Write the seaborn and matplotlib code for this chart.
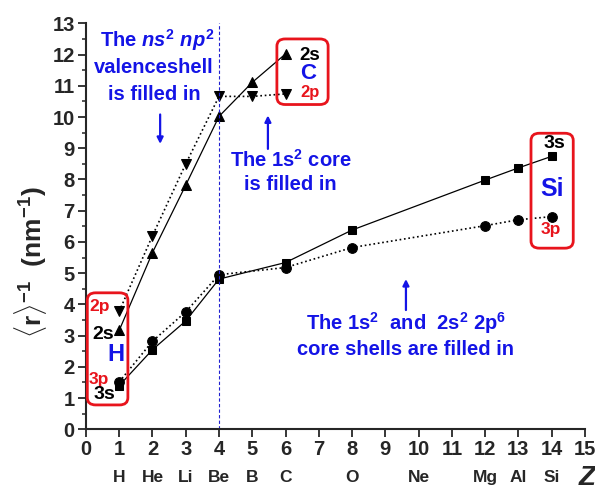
import matplotlib
matplotlib.use("Agg")
import matplotlib.pyplot as plt
from matplotlib.patches import FancyBboxPatch
from matplotlib.ticker import MultipleLocator
import seaborn as sns

# valence shell radii, 2nd period (H .. C)
z_2 = [1, 2, 3, 4, 5, 6]
r2s = [3.17, 5.66, 7.82, 10.02, 11.11, 12.02]
r2p = [3.78, 6.20, 8.50, 10.66, 10.66, 10.74]

# 3rd shell (H .. Si)
z_3 = [1, 2, 3, 4, 6, 8, 12, 13, 14]
r3s = [1.40, 2.55, 3.47, 4.81, 5.34, 6.38, 7.98, 8.37, 8.74]
r3p = [1.52, 2.82, 3.76, 4.95, 5.18, 5.82, 6.52, 6.71, 6.81]

elem_z = [1, 2, 3, 4, 5, 6, 8, 10, 12, 13, 14]
elem_names = ["H", "He", "Li", "Be", "B", "C", "O", "Ne", "Mg", "Al", "Si"]

sns.set_style("ticks")
plt.rcParams['font.family'] = ['Liberation Sans', 'DejaVu Sans']
plt.rcParams['font.weight'] = 'bold'
plt.rcParams['mathtext.fontset'] = 'custom'
plt.rcParams['mathtext.rm'] = 'Liberation Sans:bold'
plt.rcParams['mathtext.it'] = 'Liberation Sans:italic:bold'
plt.rcParams['mathtext.bf'] = 'Liberation Sans:bold'

fig = plt.figure(figsize=(5.95, 4.86), dpi=100)
ax = fig.add_axes([0.1445, 0.1167, 0.8385, 0.8353])

sns.lineplot(x=z_2, y=r2s, ax=ax, color="black", marker="^", markersize=7.5,
             linestyle="-", linewidth=0.9, markeredgecolor="black")
sns.lineplot(x=z_2, y=r2p, ax=ax, color="black", marker="v", markersize=7.5,
             linestyle=":", linewidth=1.2, markeredgecolor="black")
sns.lineplot(x=z_3, y=r3s, ax=ax, color="black", marker="s", markersize=6,
             linestyle="-", linewidth=0.9, markeredgecolor="black")
sns.lineplot(x=z_3, y=r3p, ax=ax, color="black", marker="o", markersize=7,
             linestyle=":", linewidth=1.2, markeredgecolor="black")

ax.axvline(4, color="#2020d0", linestyle=(0, (3, 2)), linewidth=0.8)

ax.set_xlim(0, 15)
ax.set_ylim(0, 13)
ax.xaxis.set_major_locator(MultipleLocator(1))
ax.yaxis.set_major_locator(MultipleLocator(1))
ax.yaxis.set_minor_locator(MultipleLocator(0.5))
ax.tick_params(axis="both", which="major", labelsize=14.5, length=6, width=1.3, pad=2)
ax.tick_params(axis="y", which="minor", length=3, width=1.1)
for s in ["left", "bottom"]:
    ax.spines[s].set_linewidth(1.5)
sns.despine(ax=ax)

# element names under the Z axis
for zz, nm in zip(elem_z, elem_names):
    ax.text(zz, -1.55, nm, ha="center", va="center", fontsize=12.5,
            fontweight="bold", clip_on=False)
ax.text(15.08, -1.55, "Z", ha="center", va="center", fontsize=20,
        fontweight="bold", fontstyle="italic", clip_on=False)

fig.text(0.052, 0.461, r"$\langle$r$\rangle^{-1}$  (nm$^{-1}$)", rotation=90,
         ha="center", va="center", fontsize=19, fontweight="bold")

red = "#e8141c"
blue = "#1414e6"

def box(x0, y0, x1, y1):
    p = FancyBboxPatch((x0, y0), x1 - x0, y1 - y0,
                       boxstyle="round,pad=0,rounding_size=0.25",
                       mutation_aspect=1.0 / 1.07,
                       facecolor="none", edgecolor=red, linewidth=2,
                       clip_on=False, zorder=5)
    ax.add_patch(p)

box(0.04, 0.78, 1.26, 4.37)
box(5.74, 10.4, 7.28, 12.5)
box(13.38, 5.8, 14.65, 9.48)

# H box
ax.text(0.42, 3.92, "2p", color=red, fontsize=12.5, ha="center", va="center")
ax.text(0.52, 3.03, "2s", color="black", fontsize=14, ha="center", va="center")
ax.text(0.9, 2.38, "H", color=blue, fontsize=17, ha="center", va="center")
ax.text(0.4, 1.6, "3p", color=red, fontsize=12.5, ha="center", va="center")
ax.text(0.55, 1.1, "3s", color="black", fontsize=14, ha="center", va="center")

# C box
ax.text(6.74, 11.98, "2s", color="black", fontsize=13.5, ha="center", va="center")
ax.text(6.68, 11.4, "C", color=blue, fontsize=16, ha="center", va="center")
ax.text(6.73, 10.8, "2p", color=red, fontsize=12, ha="center", va="center")

# Si box
ax.text(14.07, 9.14, "3s", color="black", fontsize=14, ha="center", va="center")
ax.text(14.0, 7.7, "Si", color=blue, fontsize=18, ha="center", va="center")
ax.text(13.98, 6.4, "3p", color=red, fontsize=12.5, ha="center", va="center")

# blue annotations
fs = 14.5
ax.text(2.13, 12.47, r"The $\mathit{ns}^2$ $\mathit{np}^2$", color=blue,
        fontsize=fs, ha="center", va="center")
ax.text(2.05, 11.57, "valenceshell", color=blue, fontsize=fs, ha="center", va="center")
ax.text(2.05, 10.72, "is filled in", color=blue, fontsize=fs, ha="center", va="center")
ax.annotate("", xy=(2.23, 9.05), xytext=(2.23, 10.17),
            arrowprops=dict(arrowstyle="-|>", color=blue, lw=1.6, mutation_scale=9))

ax.text(6.17, 8.63, r"The 1s$^2$ core", color=blue, fontsize=fs, ha="center", va="center")
ax.text(6.13, 7.83, "is filled in", color=blue, fontsize=fs, ha="center", va="center")
ax.annotate("", xy=(5.47, 10.14), xytext=(5.47, 8.89),
            arrowprops=dict(arrowstyle="-|>", color=blue, lw=1.6, mutation_scale=9))

ax.text(9.62, 3.4, r"The 1s$^2$  and  2s$^2$ 2p$^6$", color=blue, fontsize=fs,
        ha="center", va="center")
ax.text(9.6, 2.57, "core shells are filled in", color=blue, fontsize=fs,
        ha="center", va="center")
ax.annotate("", xy=(9.62, 4.9), xytext=(9.62, 3.73),
            arrowprops=dict(arrowstyle="-|>", color=blue, lw=1.6, mutation_scale=9))

fig.savefig("out.png", dpi=100)
